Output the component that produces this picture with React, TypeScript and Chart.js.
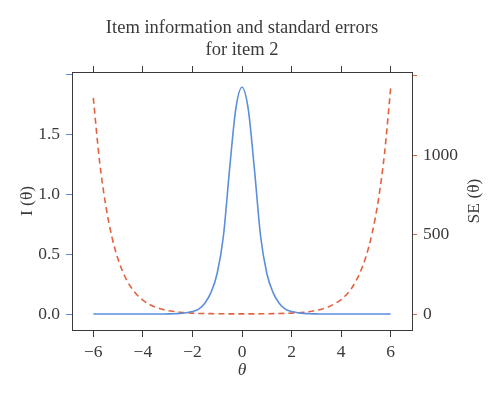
import React, { useEffect, useRef } from "react";
import { Chart, registerables } from "chart.js";

Chart.register(...registerables);

const theta = [
  -6, -5.75, -5.5, -5.25, -5, -4.75, -4.5, -4.25, -4, -3.75, -3.5, -3.25, -3,
  -2.75, -2.5, -2.25, -2, -1.75, -1.5, -1.25, -1, -0.75, -0.5, -0.25, 0,
  0.25, 0.5, 0.75, 1, 1.25, 1.5, 1.75, 2, 2.25, 2.5, 2.75, 3, 3.25, 3.5,
  3.75, 4, 4.25, 4.5, 4.75, 5, 5.25, 5.5, 5.75, 6,
];

const information = [
  0, 0, 0, 0, 0, 0, 0, 0, 0, 0, 0, 0, 0.001,
  0.002, 0.005, 0.01, 0.02, 0.04, 0.09, 0.18, 0.34, 0.65, 1.21, 1.71, 1.89,
  1.71, 1.21, 0.65, 0.34, 0.18, 0.09, 0.04, 0.02, 0.01, 0.005, 0.002, 0.001, 0, 0,
  0, 0, 0, 0, 0, 0, 0, 0, 0, 0,
];

const standardError = [
  1359, 963, 684, 485, 344, 244, 173, 123, 87, 62, 44, 31, 22,
  15.9, 11.3, 8.0, 5.7, 4.1, 2.9, 2.1, 1.5, 1.15, 0.91, 0.77, 0.73,
  0.77, 0.91, 1.15, 1.5, 2.1, 2.9, 4.1, 5.7, 8.0, 11.3, 15.9, 23, 32, 46,
  65, 91, 128, 181, 256, 360, 507, 715, 1008, 1422,
];

const xTicks = [-6, -4, -2, 0, 2, 4, 6];
const infoTicks = [0, 0.5, 1, 1.5, 2];
const seTicks = [0, 500, 1000, 1500];

const titleLines = ["Item information and standard errors", "for item 2"];
const xTitle = "\u03b8";
const infoTitle = "I (\u03b8)";
const seTitle = "SE (\u03b8)";

const BLUE = "#5b8fdc";
const RED = "#e2623f";
const DARK = "#3a3a3a";
const SERIF = "'Liberation Serif', 'Times New Roman', serif";

const rightTitlePlugin = {
  id: "rightTitle",
  afterDraw(chart: any) {
    const { ctx, chartArea } = chart;
    const s = chart.scales.y2;
    ctx.save();
    ctx.translate(s.right - 26, (chartArea.top + chartArea.bottom) / 2);
    ctx.rotate(-Math.PI / 2);
    ctx.font = `17.5px ${SERIF}`;
    ctx.fillStyle = DARK;
    ctx.textAlign = "center";
    ctx.textBaseline = "middle";
    ctx.fillText(seTitle, 0, 0);
    ctx.restore();
  },
};

export default function App() {
  const ref = useRef<HTMLCanvasElement | null>(null);

  useEffect(() => {
    if (!ref.current) return;
    const tickFont = { family: SERIF, size: 17.5 };
    const chart = new Chart(ref.current, {
      type: "line",
      data: {
        datasets: [
          {
            label: "Information",
            data: theta.map((t, i) => ({ x: t, y: information[i] })),
            yAxisID: "y",
            xAxisID: "x",
            borderColor: BLUE,
            borderWidth: 1.6,
            pointRadius: 0,
            cubicInterpolationMode: "monotone",
            fill: false,
          },
          {
            label: "SE",
            data: theta.map((t, i) => ({ x: t, y: standardError[i] })),
            yAxisID: "y2",
            xAxisID: "x",
            borderColor: RED,
            borderWidth: 1.6,
            borderDash: [6, 4],
            pointRadius: 0,
            cubicInterpolationMode: "monotone",
            fill: false,
          },
        ],
      },
      options: {
        animation: false,
        responsive: false,
        devicePixelRatio: 1,
        layout: { padding: 0 },
        plugins: {
          legend: { display: false },
          tooltip: { enabled: false },
          title: {
            display: true,
            text: titleLines,
            fullSize: false,
            color: DARK,
            font: { family: SERIF, size: 18.5, weight: "normal", lineHeight: 22 / 18.5 },
            padding: { top: 17, bottom: 0 },
          },
        },
        scales: {
          x: {
            type: "linear",
            position: "bottom",
            min: -6.86,
            max: 6.86,
            afterBuildTicks: (s: any) => {
              s.ticks = xTicks.map((v) => ({ value: v }));
            },
            afterFit: (s: any) => {
              s.height = 67;
            },
            border: { display: true, color: DARK, width: 1 },
            grid: {
              display: true,
              drawOnChartArea: false,
              drawTicks: true,
              tickLength: 7,
              tickColor: DARK,
              color: DARK,
            },
            ticks: {
              font: tickFont,
              color: DARK,
              padding: 5,
              maxRotation: 0,
              autoSkip: false,
              callback: (v: any) => (v < 0 ? "\u2212" + Math.abs(v) : String(v)),
            },
            title: {
              display: true,
              text: xTitle,
              color: DARK,
              font: { family: SERIF, size: 17.5, style: "italic" },
              padding: { top: 0, bottom: 16 },
            },
          },
          x2: {
            type: "linear",
            position: "top",
            min: -6.86,
            max: 6.86,
            afterBuildTicks: (s: any) => {
              s.ticks = xTicks.map((v) => ({ value: v }));
            },
            afterFit: (s: any) => {
              s.height = 11;
            },
            border: { display: true, color: DARK, width: 1 },
            grid: {
              display: true,
              drawOnChartArea: false,
              drawTicks: true,
              tickLength: 6,
              tickColor: DARK,
              color: DARK,
            },
            ticks: { display: false },
          },
          y: {
            type: "linear",
            position: "left",
            min: -0.1333,
            max: 2.0167,
            afterBuildTicks: (s: any) => {
              s.ticks = infoTicks.map((v) => ({ value: v }));
            },
            afterFit: (s: any) => {
              s.width = 72;
            },
            border: { display: true, color: DARK, width: 1 },
            grid: {
              display: true,
              drawOnChartArea: false,
              drawTicks: true,
              tickLength: 6,
              tickColor: BLUE,
              color: BLUE,
            },
            ticks: {
              font: tickFont,
              color: DARK,
              padding: 6,
              autoSkip: false,
              callback: (v: any) => (v === 2 ? "" : Number(v).toFixed(1)),
            },
            title: {
              display: true,
              text: infoTitle,
              color: DARK,
              font: { family: SERIF, size: 17.5 },
              padding: { top: 17, bottom: 0 },
            },
          },
          y2: {
            type: "linear",
            position: "right",
            min: -100.6,
            max: 1522,
            afterBuildTicks: (s: any) => {
              s.ticks = seTicks.map((v) => ({ value: v }));
            },
            afterFit: (s: any) => {
              s.width = 88;
            },
            border: { display: true, color: DARK, width: 1 },
            grid: {
              display: true,
              drawOnChartArea: false,
              drawTicks: true,
              tickLength: 5,
              tickColor: RED,
              color: RED,
            },
            ticks: {
              font: tickFont,
              color: DARK,
              padding: 6,
              autoSkip: false,
              callback: (v: any) => (v === 1500 ? "" : String(v)),
            },
          },
        },
      },
      plugins: [rightTitlePlugin],
    } as any);
    return () => chart.destroy();
  }, []);

  return (
    <div style={{ position: "fixed", left: 0, top: 0, width: 500, height: 397, background: "#fff" }}>
      <canvas ref={ref} width={500} height={397} style={{ width: 500, height: 397, display: "block" }} />
    </div>
  );
}
